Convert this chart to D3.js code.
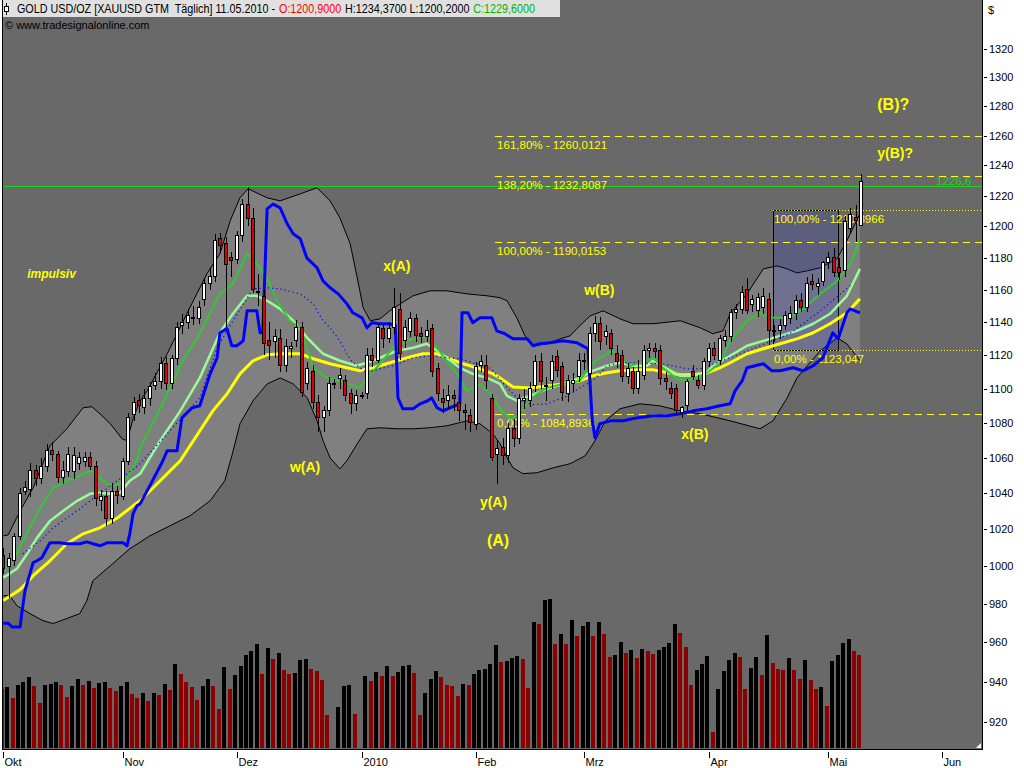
<!DOCTYPE html>
<html><head><meta charset="utf-8">
<script src="https://cdn.jsdelivr.net/npm/d3@7"></script>
<style>body{margin:0;background:#fff;} svg{display:block;font-family:"Liberation Sans",Arial,sans-serif;}</style>
</head><body><svg id="c" width="1024" height="768"></svg>
<script>
// ---------- DATA ----------
const monthTickIdx = [0,22,43,66,87,107,130,152,173];
const monthLabels = ["Okt","Nov","Dez","2010","Feb","Mrz","Apr","Mai","Jun"];
const priceTicks = [920,940,960,980,1000,1020,1040,1060,1080,1100,1120,1140,1160,1180,1200,1220,1240,1260,1280,1300,1320];

const open = [1006,1000,1003,1016,1041,1042,1053,1048,1055,1064,
1062,1049,1052,1052,1057,1058,1060,1055,1036,1038,
1026,1041,1038,1058,1085,1093,1089,1094,1102,1104,
1115,1103,1118,1138,1140,1142,1142,1154,1164,1168,
1192,1189,1180,1179,1194,1214,1205,1159,1156,1129,
1128,1130,1114,1124,1129,1137,1103,1110,1092,1083,
1087,1103,1106,1105,1097,1091,1096,1097,1120,1117,
1136,1130,1137,1148,1129,1134,1142,1133,1131,1136,
1112,1094,1093,1096,1092,1087,1084,1079,1114,1114,
1094,1062,1066,1061,1077,1071,1093,1093,1102,1116,
1102,1105,1119,1113,1097,1103,1107,1117,1109,1133,
1139,1131,1133,1121,1120,1107,1110,1100,1108,1123,
1124,1123,1106,1100,1100,1086,1090,1110,1105,1102,
1116,1124,1117,1129,1131,1146,1148,1160,1151,1147,
1149,1154,1135,1135,1138,1142,1145,1153,1149,1165,
1162,1165,1177,1180,1174,1172,1199,1206,1200.9];
const high = [1010,1007,1018,1043,1047,1057,1056,1060,1068,1069,
1064,1058,1066,1066,1063,1063,1063,1058,1042,1041,
1046,1044,1060,1086,1095,1097,1100,1104,1109,1119,
1119,1120,1140,1145,1148,1150,1153,1167,1174,1195,
1196,1193,1184,1197,1218,1226,1212,1170,1160,1140,
1136,1136,1130,1128,1141,1140,1116,1114,1096,1090,
1107,1106,1112,1108,1100,1099,1098,1124,1124,1139,
1139,1140,1161,1158,1141,1146,1145,1137,1141,1139,
1115,1100,1102,1099,1095,1091,1088,1116,1120,1120,
1097,1070,1071,1080,1082,1097,1100,1104,1120,1121,
1107,1120,1123,1116,1108,1109,1121,1121,1137,1144,
1143,1138,1136,1126,1123,1115,1113,1117,1126,1127,
1127,1126,1110,1104,1103,1090,1106,1114,1108,1118,
1127,1128,1132,1135,1148,1151,1162,1167,1157,1158,
1161,1158,1138,1142,1147,1150,1157,1158,1168,1170,
1167,1178,1184,1186,1180,1207,1212,1214,1234.37];
const low = [996,983,1000,1014,1039,1038,1044,1045,1052,1058,
1046,1045,1049,1048,1053,1055,1053,1033,1030,1022,
1023,1034,1036,1056,1081,1086,1085,1090,1099,1100,
1099,1100,1114,1133,1136,1138,1139,1150,1160,1165,
1183,1137,1168,1176,1190,1200,1158,1150,1120,1117,
1118,1110,1110,1118,1125,1095,1099,1088,1075,1075,
1084,1100,1100,1093,1085,1087,1094,1094,1113,1115,
1124,1127,1133,1117,1124,1131,1128,1127,1128,1107,
1093,1086,1088,1087,1081,1076,1075,1076,1110,1100,
1058,1045,1056,1057,1066,1068,1088,1089,1098,1100,
1093,1100,1107,1093,1092,1098,1104,1111,1106,1128,
1123,1126,1120,1112,1104,1103,1097,1097,1105,1118,
1118,1102,1099,1094,1085,1083,1087,1105,1100,1099,
1113,1117,1114,1125,1128,1142,1145,1145,1146,1143,
1145,1126,1128,1130,1135,1139,1141,1146,1146,1160,
1157,1162,1173,1168,1166,1168,1195,1190,1200.2];
const close = [999,1004,1016,1040,1043,1053,1048,1055,1064,1062,
1049,1053,1062,1061,1060,1060,1055,1037,1038,1026,
1041,1039,1058,1083,1092,1090,1094,1101,1104,1115,
1103,1118,1137,1140,1144,1143,1149,1164,1168,1191,
1188,1176,1178,1194,1214,1205,1160,1158,1127,1126,
1131,1114,1125,1125,1137,1098,1112,1092,1083,1087,
1103,1103,1108,1096,1091,1096,1096,1120,1117,1137,
1130,1136,1149,1121,1137,1142,1132,1131,1135,1110,
1097,1092,1096,1094,1087,1086,1080,1113,1116,1105,
1060,1065,1061,1077,1071,1094,1094,1100,1116,1104,
1101,1116,1111,1098,1105,1105,1117,1116,1133,1139,
1128,1134,1124,1116,1107,1112,1100,1110,1123,1124,
1122,1106,1104,1097,1087,1089,1104,1107,1102,1116,
1124,1120,1130,1131,1146,1148,1158,1147,1154,1155,
1156,1135,1135,1138,1144,1145,1153,1149,1164,1163,
1164,1177,1180,1171,1171,1203,1208,1204,1229.6];
const volume = [59,61,50,63,66,71,62,45,63,64,
66,63,51,62,69,63,67,60,65,66,
60,57,62,66,54,50,55,47,55,53,
64,58,84,74,66,61,48,62,69,62,
39,81,59,73,82,93,97,104,74,100,
89,95,78,74,75,88,89,79,77,68,
33,0,41,62,63,34,0,72,67,76,
72,82,72,76,82,83,75,33,55,69,
77,71,63,62,52,64,63,74,78,79,
84,103,86,87,90,92,89,60,126,124,
148,149,104,114,104,128,112,122,126,112,
126,114,91,93,106,95,98,90,99,97,
94,98,101,105,124,115,101,63,78,84,
92,16,59,77,88,95,91,59,80,91,
73,113,85,79,78,90,78,69,88,68,
59,61,42,87,93,105,109,97,93];

// indicators: [bar index, price]
const upperBB = [[0,1016.5],[0.9,1017],[3.1,1030.2],[5.5,1043.1],[8.6,1066.8],[11.7,1076.6],[14.7,1088.8],[16.3,1089.4],[17.8,1085.3],[19.7,1079.5],[21.9,1070.8],[22.8,1069.7],[23.9,1082.4],[25.2,1092.9],[26.5,1098.7],[30.2,1120.8],[33.8,1145.1],[37.5,1169.9],[39.9,1182.5],[41.8,1203.7],[43.6,1218.6],[45.1,1224.5],[48.6,1218.6],[51,1216.6],[54.7,1221.2],[57.8,1225.2],[60.2,1216.6],[62,1205.6],[63.9,1188.9],[65.2,1167.4],[66.3,1148.8],[67.6,1140.8],[69.4,1142],[71.2,1146.9],[73.1,1151.2],[75.5,1156.2],[78.6,1159.3],[81.7,1159.3],[85.4,1157.4],[89.1,1156.2],[91.5,1155],[92.8,1153.1],[94.6,1142.6],[96.1,1131.6],[97.6,1125.6],[100.2,1126.8],[102.6,1129.8],[104.4,1131.6],[106.2,1137.8],[108.1,1143.8],[110.5,1146.9],[113.6,1142],[116,1139],[119.7,1139],[124.7,1140.8],[128.4,1136.5],[130.7,1132.9],[132.6,1134.7],[133.9,1145.1],[137,1157.4],[140,1173],[142.5,1174.9],[144.4,1173],[146.2,1170.5],[148.1,1171.8],[150.5,1173.7],[153.6,1179.4],[155.4,1190.8],[157.8,1208.2]];
const lowerBB = [[0,984.4],[1.2,984.4],[2.5,979.1],[4.9,975],[7.3,971.3],[9.2,969.8],[11.7,972.4],[14.1,975],[15.4,981.8],[16.5,992.3],[19.7,1000.3],[23.3,1009.5],[27,1016.5],[30.7,1022],[34.4,1027.5],[38.1,1035.8],[40.8,1047],[42.1,1061.1],[43.6,1079.5],[46,1092.9],[48.6,1102.8],[51,1106.4],[53.4,1102.8],[56,1094.6],[57.8,1081.2],[58.9,1069.7],[60.2,1059.9],[62,1053.7],[63.3,1058.3],[65.2,1068],[67,1076.6],[69.4,1077.2],[72.5,1076.6],[75.5,1076.6],[78.6,1077.2],[81.7,1078.3],[85.4,1081.2],[87.8,1079.5],[90.2,1073.7],[91.5,1068],[92.8,1060],[93.9,1054.3],[95.7,1051],[98.3,1051.5],[101.3,1054.3],[104.4,1056.6],[107.2,1061.1],[109,1069.7],[110.9,1081.2],[113.6,1088.2],[117.3,1091.1],[121,1089.9],[124.7,1087],[128.4,1085.3],[133.9,1081.2],[139.4,1076.6],[141.8,1081.2],[144.4,1094.6],[146.2,1106.4],[148.1,1113.6],[150.5,1122.6],[153.6,1130.4],[155.4,1126.8],[157.8,1116.6]];
const yellowMA = [[0,981.8],[3.1,987.6],[5.5,995],[8.6,1003],[11.7,1012.2],[14.7,1017.6],[17.8,1020.9],[21,1026.3],[23.9,1033],[25.2,1035.8],[28.9,1047],[32.6,1058.3],[36.2,1075.4],[38.6,1087],[41.2,1096.9],[43.6,1108.8],[46,1116.6],[48.6,1120.2],[51,1120.8],[54.7,1120.8],[57.1,1117.8],[60.2,1114.8],[63.3,1112.4],[65.7,1110.6],[68.1,1112.4],[71.2,1115.4],[74.4,1118.4],[77.3,1120.8],[79.9,1120.8],[81.7,1118.4],[84.7,1114.8],[87.8,1111.8],[90.2,1108.8],[91.5,1106.4],[93.9,1101],[97,1100.4],[100.2,1101.6],[103.1,1102.8],[106.2,1104.6],[108.6,1107.6],[111.2,1109.4],[113.6,1110.6],[117.3,1111.2],[119.7,1111.2],[122.3,1109.4],[124.7,1108.2],[127.1,1108.2],[129.6,1109.4],[132,1112.4],[133.9,1115.4],[137,1120.8],[140,1123.8],[143.1,1126.8],[146.2,1129.8],[149.2,1133.5],[152.3,1139],[155.4,1145.7],[157.8,1154.3]];
const greenMA = [[0,998.7],[1.8,1003],[3.6,1013.8],[5.5,1024.7],[7.3,1034.1],[9.2,1043.1],[11.7,1047],[14.1,1049.8],[16,1052.6],[17.3,1049.8],[19.1,1045.3],[21,1044.2],[22.8,1048.7],[24.6,1058.3],[25.2,1065.7],[28.9,1088.2],[33.1,1116.6],[36.2,1132.9],[39.9,1157.4],[42.3,1163.6],[44.9,1182.5],[46,1179.4],[48.6,1167.4],[50.4,1153.1],[52.8,1140.8],[54.7,1136.5],[55.9,1124.4],[57.1,1112.4],[59.6,1106.4],[62,1104.6],[65.7,1100.5],[67,1106.4],[69.4,1114.8],[71.8,1124.4],[74.4,1128.6],[78,1131.6],[79.9,1124.4],[81.7,1116.6],[83.6,1108.8],[85.4,1098.7],[87.8,1102.8],[89.7,1097],[91.5,1088.2],[93.4,1082.4],[94.6,1084.1],[96.5,1091.1],[98.3,1097],[100.2,1100.5],[103.1,1102.8],[106.2,1104.6],[108.1,1113.6],[109.9,1118.4],[112.1,1122.6],[113.6,1118.4],[115.5,1113.6],[117.3,1115.4],[119.7,1118.4],[121.5,1112.4],[124.1,1105.8],[125.9,1104.6],[127.8,1106.4],[130.2,1110.6],[132,1115.4],[133.9,1128.6],[137,1140.8],[139.4,1145.7],[141.2,1142.6],[144.9,1142.6],[147.3,1148.1],[150.5,1157.4],[153.6,1165.5],[156,1176.2],[157.8,1190.8]];
const lightGreenMA = [[0,994],[2.5,998.7],[4.4,1006.8],[6.2,1015.4],[8.6,1024.7],[11,1030.2],[13.6,1035.8],[16,1039.7],[17.8,1040.3],[19.7,1039.7],[21.5,1040.3],[23.3,1047],[25.2,1050.9],[28.9,1069.7],[32.6,1087],[36.2,1106.4],[39.9,1133.5],[42.3,1145.1],[44.9,1156.2],[46.7,1156.2],[48.6,1153.1],[51,1148.1],[53.4,1140.8],[56,1130.4],[58.9,1120.8],[62,1116.6],[65.1,1113.6],[67,1115.4],[69.4,1118.4],[72.5,1122.6],[75.5,1124.4],[78,1126.8],[79.9,1122.6],[81.7,1118.4],[84.1,1112.4],[86.5,1108.8],[89.1,1106.4],[91.5,1102.8],[92.8,1095.8],[94.6,1092.9],[97,1095.8],[100.2,1099.9],[103.1,1102.8],[106.2,1106.4],[108.6,1110.6],[111.2,1113.6],[113.6,1115.4],[116,1113.6],[118.6,1113.6],[119.7,1116.6],[122.3,1111.8],[124.7,1107.6],[127.1,1107.6],[129.6,1109.4],[130.7,1113.6],[133.9,1119.6],[137,1125.6],[140,1128.6],[143.1,1131.6],[146.2,1134.7],[149.2,1139],[152.3,1145.1],[155.4,1156.2],[157.8,1173]];
const blueLine = [[0,970],[0.9,970],[1.6,968],[3.1,968],[3.4,975],[4,987],[5.5,1002],[6.2,1003],[7.1,1004.6],[8.6,1012.7],[10.4,1012.7],[11.7,1012.2],[14.1,1012.2],[15.4,1013.2],[16.5,1012.2],[17.8,1011.1],[19.1,1012.7],[22.1,1012.7],[22.8,1011.1],[23.3,1017.6],[23.9,1028.5],[24.6,1033],[25.2,1034.1],[27,1044.2],[29.4,1058.3],[30.2,1064],[32,1064],[32.9,1082.9],[34.8,1088.8],[36.2,1090],[38.1,1108.8],[39.4,1118.4],[39.9,1133.5],[41.2,1136],[42.1,1125.6],[43,1125.6],[44.2,1128.6],[44.9,1146.9],[46.7,1146.9],[47.3,1133.5],[47.8,1133.5],[48.6,1211.4],[49.7,1214.5],[51,1212],[52.3,1201.7],[53.4,1195.3],[54.7,1192.1],[55.9,1180],[57.8,1173.7],[58.9,1165.5],[60.2,1161.2],[61.7,1157.4],[63.3,1151.2],[64.4,1145.7],[66.1,1142.6],[67,1136.5],[67.9,1139.6],[69.4,1139],[70.7,1139],[72.2,1138.4],[72.5,1112.4],[72.7,1094.6],[73.6,1088.2],[75.5,1088.2],[76.8,1091.1],[78.2,1092.9],[78.9,1094.6],[79.9,1088.8],[81,1087],[82.3,1088.8],[84.1,1091.1],[84.5,1145.7],[85.6,1145.7],[86.5,1139.6],[87.8,1142.6],[90,1142.6],[90.9,1134.7],[92.4,1132.9],[93.9,1129.8],[96.5,1129.8],[97.6,1125.6],[98.9,1126.8],[100.7,1127.4],[103.1,1128.6],[105.7,1127.4],[107.7,1123.8],[108.5,1081.2],[109,1071.4],[109.9,1079.5],[111.8,1081.2],[114.2,1081.2],[116.7,1082.9],[119.7,1084.1],[122.3,1084.1],[124.7,1085.3],[127.1,1087],[129.6,1088.2],[132,1090],[133.9,1091.1],[134.8,1098.7],[136.1,1104.6],[137,1112.4],[140,1114.8],[141.6,1110.6],[143.1,1110.6],[145.5,1112.4],[147.3,1110.6],[149.2,1113.6],[151,1118.4],[152.8,1133.5],[153.8,1129.8],[155.4,1145.7],[156,1148.1],[157.8,1145.7]];
const blueDotted = [[3.6,1006.8],[6.8,1013.8],[9.2,1020.9],[11.7,1026.3],[14.1,1031.3],[16,1035.8],[17.8,1039.7],[20.2,1045.3],[22.8,1050.9],[25.2,1056.6],[36.2,1094.6],[39.4,1124.4],[42.3,1140.8],[46,1160.5],[48.6,1161.2],[51,1160.5],[54.7,1157.4],[57.1,1151.2],[58.9,1140.8],[60.2,1136.5],[62,1128.6],[63.3,1120.8],[64.4,1115.4],[67,1109.4],[69.4,1111.8],[71.8,1113.6],[75.5,1118.4],[78.6,1119.6],[81.7,1118.4],[84.1,1117.8],[86.5,1115.4],[89.1,1113.6],[90.2,1110.6],[92.8,1100.5],[95.2,1092.9],[97.6,1090.6],[100.2,1091.1],[103.9,1095.8],[106.2,1100.5],[108.6,1104.6],[111.2,1113.6],[113.6,1115.4],[117.3,1115.4],[121,1114.8],[123.4,1113.6],[125.9,1111.8],[128.4,1111.8],[133.9,1118.4],[139.4,1125.6],[144.9,1133],[150.5,1146.9],[156,1162.4]];

const fibLevels = [1260.0121, 1232.8087, 1190.0153, 1084.8936];
const fibLabels = ["161,80% - 1260,0121","138,20% - 1232,8087","100,00% - 1190,0153","0,00% - 1084,8936"];
const fib2Levels = [1210.8966, 1123.047];
const fib2Labels = ["100,00% - 1210,8966","0,00% - 1123,047"];
const lastPrice = 1226.6;
const waveLabels = ["impulsiv","x(A)","w(A)","y(A)","(A)","w(B)","x(B)","y(B)?","(B)?"];

// ---------- CHART ----------
const svg = d3.select('#c');
const PL = 3, PR = 982, PT = 0, PB = 749;
const x = d3.scaleLinear().domain([0,158]).range([3.3,861]);
const y = d3.scaleLog().domain([920,1320]).range([721.8,48.8]);
const yv = d3.scaleLinear().domain([0,150]).range([748,598]);
const line = d3.line().x(d=>x(d[0])).y(d=>y(d[1]));

svg.append('rect').attr('width',1024).attr('height',768).attr('fill','#fff');
svg.append('rect').attr('x',PL).attr('y',PT).attr('width',PR-PL).attr('height',PB-PT).attr('fill','#696969');
svg.append('defs').append('clipPath').attr('id','clip').append('rect')
  .attr('x',PL).attr('y',PT).attr('width',PR-PL).attr('height',PB-PT);
const g = svg.append('g').attr('clip-path','url(#clip)');

// Bollinger band
g.append('path').attr('d', line(upperBB.concat(lowerBB.slice().reverse()))+'Z').attr('fill','#808080');
[upperBB, lowerBB].forEach(b => g.append('path').attr('d', line(b)).attr('fill','none').attr('stroke','#000').attr('stroke-width',1));

// volume
g.selectAll('rect.vol').data(volume).enter().append('rect')
  .attr('x',(d,i)=>Math.round(x(i)-3.6)).attr('width',4)
  .attr('y',d=>yv(d)).attr('height',d=>yv(0)-yv(d))
  .attr('fill',(d,i)=> (i>0 && d>volume[i-1]) ? '#000000' : '#8c0000')
  .attr('shape-rendering','crispEdges');

// fib rectangle
const rectI0 = 141.8, rectI1 = 153.8;
g.append('rect').attr('x',Math.round(x(rectI0))+0.5).attr('y',Math.round(y(fib2Levels[0]))+0.5)
  .attr('width',Math.round(x(rectI1)-x(rectI0))).attr('height',Math.round(y(fib2Levels[1]))-Math.round(y(fib2Levels[0])))
  .attr('fill','rgba(30,30,230,0.16)').attr('stroke','#000').attr('stroke-width',1);

// fib lines
const hl = g.append('g').attr('shape-rendering','crispEdges');
const fibStart = 90.6;
fibLevels.forEach((v,k)=>{
  const yy = Math.round(y(v))+0.5;
  hl.append('line').attr('x1',x(fibStart)).attr('x2',PR).attr('y1',yy).attr('y2',yy)
    .attr('stroke','#ffff00').attr('stroke-width',1).attr('stroke-dasharray','7,5');
  g.append('text').attr('x',x(fibStart)+2).attr('y',yy+12).attr('fill','#ffff00')
    .attr('font-size',11.5).text(fibLabels[k]);
});
fib2Levels.forEach((v,k)=>{
  const yy = Math.round(y(v))+0.5;
  hl.append('line').attr('x1',x(rectI0)).attr('x2',PR).attr('y1',yy).attr('y2',yy)
    .attr('stroke','#ffff00').attr('stroke-width',1).attr('stroke-dasharray','1,2');
  g.append('text').attr('x',x(rectI0)+1).attr('y',yy+12).attr('fill','#ffff00')
    .attr('font-size',11.5).text(fib2Labels[k]);
});
// last price line
const ly = Math.round(y(lastPrice))+0.5;
hl.append('line').attr('x1',PL).attr('x2',PR).attr('y1',ly).attr('y2',ly).attr('stroke','#1ed21e').attr('stroke-width',1);
g.append('text').attr('x',936).attr('y',ly-2).attr('fill','#1ed21e').attr('font-size',11.5)
  .text(String(lastPrice).replace('.',','));

// moving averages
const drawLine = (data,color,w,dash)=> g.append('path').attr('d',line(data)).attr('fill','none')
  .attr('stroke',color).attr('stroke-width',w).attr('stroke-linejoin','round')
  .attr('stroke-dasharray',dash||null);
drawLine(yellowMA,'#ffff00',3);
drawLine(lightGreenMA,'#98fb98',2.5);
drawLine(greenMA,'#32c832',2);
drawLine(blueDotted,'#0000ff',1.2,'1.2,3');
drawLine(blueLine,'#0000ff',3);

// candles
const cg = g.append('g').attr('shape-rendering','crispEdges');
open.forEach((o,i)=>{
  const cx = Math.round(x(i));
  cg.append('line').attr('x1',cx+0.5).attr('x2',cx+0.5).attr('y1',y(high[i])).attr('y2',y(low[i])).attr('stroke','#000');
  const top = y(Math.max(o,close[i])), bot = y(Math.min(o,close[i]));
  cg.append('rect').attr('x',cx-1.5).attr('width',3).attr('y',top).attr('height',Math.max(1,bot-top))
    .attr('fill', close[i] >= o ? '#ffffff' : '#e00000').attr('stroke','#000').attr('stroke-width',1);
});

// wave labels
const waveAt = [[4.4,1167.4,12,'italic'],[70,1171.8,14],[52.8,1052,14],[87.8,1032.4,14],[89.1,1011.1,16],[107,1156.8,14],[124.9,1070.8,14],[161,1245,14],[161,1277.5,16]];
waveLabels.forEach((t,k)=>{
  const a = waveAt[k];
  svg.append('text').attr('x',x(a[0])).attr('y',y(a[1])).attr('fill','#ffff00')
    .attr('font-weight','bold').attr('font-size',a[2]).attr('font-style',a[3]||'normal').text(t);
});

// frame
const fr = svg.append('g').attr('shape-rendering','crispEdges');
fr.append('line').attr('x1',2.5).attr('x2',2.5).attr('y1',0).attr('y2',PB+0.5).attr('stroke','#000');
fr.append('line').attr('x1',PR+0.5).attr('x2',PR+0.5).attr('y1',0).attr('y2',PB+0.5).attr('stroke','#000');
fr.append('line').attr('x1',2).attr('x2',PR+1).attr('y1',PB+0.5).attr('y2',PB+0.5).attr('stroke','#000');
svg.append('path').attr('d','M976,748 L981,743 L981,748 Z').attr('fill','#fff');

// right axis
const ra = svg.append('g');
priceTicks.forEach(v=>{
  const yy = Math.round(y(v))+0.5;
  ra.append('line').attr('x1',984).attr('x2',987).attr('y1',yy).attr('y2',yy).attr('stroke','#000').attr('shape-rendering','crispEdges');
  ra.append('text').attr('x',989).attr('y',yy).attr('dy','0.36em').attr('font-size',11).attr('fill','#000').text(v);
});
ra.append('text').attr('x',988).attr('y',14).attr('font-size',11).text('$');

// bottom axis
monthTickIdx.forEach((m,k)=>{
  const xx = Math.round(x(m))+0.5;
  svg.append('line').attr('x1',xx).attr('x2',xx).attr('y1',752).attr('y2',758).attr('stroke','#000').attr('shape-rendering','crispEdges');
  svg.append('text').attr('x',xx+1).attr('y',766).attr('font-size',11).text(monthLabels[k]);
});

// title bar
svg.append('rect').attr('x',3).attr('y',0).attr('width',557).attr('height',17).attr('fill','#e0e0e0');
svg.append('line').attr('x1',6.5).attr('x2',6.5).attr('y1',3).attr('y2',15).attr('stroke','#000');
svg.append('rect').attr('x',4.5).attr('y',6.5).attr('width',4).attr('height',5).attr('fill','#fff').attr('stroke','#000');
const tg = svg.append('g');
let tx = 0;
[["GOLD USD/OZ [XAUUSD GTM  Täglich] 11.05.2010 -","#000"],["O:1200,9000","#ff0000"],["H:1234,3700 L:1200,2000","#000"],["C:1229,6000","#00b400"]]
  .forEach(s=>{
    const t = tg.append('text').attr('x',tx).attr('y',0).attr('font-size',12).attr('fill',s[1]).style('white-space','pre').text(s[0]);
    tx += t.node().getComputedTextLength() + 4;
  });
tg.attr('transform',`translate(17,13) scale(${518/(tx-4)},1)`);
svg.append('text').attr('x',5).attr('y',29).attr('font-size',11).text('© www.tradesignalonline.com');
</script></body></html>
